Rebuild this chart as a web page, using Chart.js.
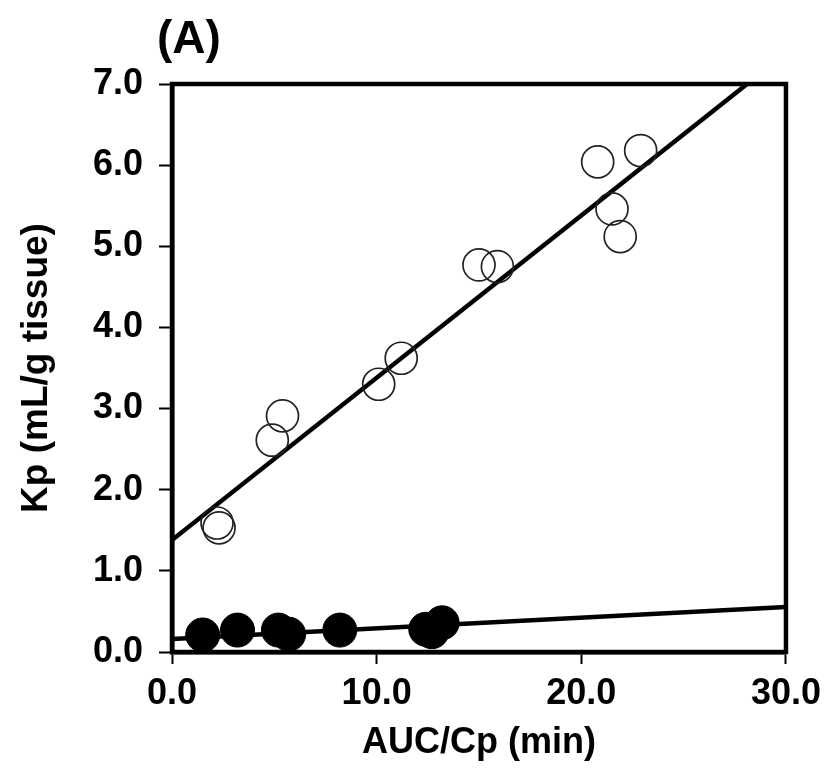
<!DOCTYPE html>
<html>
<head>
<meta charset="utf-8">
<script src="https://cdn.jsdelivr.net/npm/chart.js@4/dist/chart.umd.min.js"></script>
<style>
  html, body { margin: 0; padding: 0; background: #fff; }
  #wrap { width: 829px; height: 783px; position: relative; }
</style>
</head>
<body>
<div id="wrap"><canvas id="c" width="829" height="783"></canvas></div>
<script>
// ---- data ----
const panelLabel = "(A)";
const xTitle = "AUC/Cp (min)";
const yTitle = "Kp (mL/g tissue)";
const xTicks = [0, 10, 20, 30];
const yTicks = [0, 1, 2, 3, 4, 5, 6, 7];

// open circles
const openX = [2.2, 2.3, 4.9, 5.4, 10.1, 11.2, 15.0, 15.9, 20.8, 21.5, 21.9, 22.9];
const openY = [1.59, 1.53, 2.61, 2.91, 3.30, 3.62, 4.77, 4.75, 6.04, 5.46, 5.12, 6.18];
// filled circles
const closedX = [1.5, 3.2, 5.2, 5.7, 8.2, 12.4, 12.7, 13.2];
const closedY = [0.21, 0.27, 0.27, 0.22, 0.27, 0.28, 0.25, 0.36];
// regression lines (endpoints read at x = 0 and x = 30)
const fitX = [0, 30];
const openFitY = [1.38, 7.38];
const closedFitY = [0.16, 0.555];

const pts = (xs, ys) => xs.map((x, i) => ({ x: x, y: ys[i] }));

const frame = {
  id: 'frame',
  afterDatasetsDraw(chart) {
    const { ctx, chartArea: a } = chart;
    ctx.save();
    ctx.strokeStyle = '#000';
    ctx.lineWidth = 4.5;
    ctx.strokeRect(a.left, a.top, a.right - a.left, a.bottom - a.top);
    ctx.restore();
  },
  afterDraw(chart) {
    const { ctx, chartArea: a } = chart;
    ctx.save();
    ctx.fillStyle = '#000';
    ctx.font = 'bold 46px "Liberation Sans", Arial, sans-serif';
    ctx.textAlign = 'left';
    ctx.textBaseline = 'middle';
    ctx.fillText(panelLabel, a.left - 15, 40);
    ctx.restore();
  }
};

const tickFont = { family: '"Liberation Sans", Arial, sans-serif', weight: 'bold', size: 36 };

new Chart(document.getElementById('c'), {
  type: 'scatter',
  data: {
    datasets: [
      {
        type: 'line', data: pts(fitX, openFitY), borderColor: '#000', borderWidth: 4.5,
        pointRadius: 0, fill: false, tension: 0, order: 3
      },
      {
        type: 'line', data: pts(fitX, closedFitY), borderColor: '#000', borderWidth: 4.5,
        pointRadius: 0, fill: false, tension: 0, order: 3
      },
      {
        data: pts(openX, openY), pointStyle: 'circle', pointRadius: 16,
        backgroundColor: 'rgba(255,255,255,0)', borderColor: '#222', borderWidth: 1.7, order: 1
      },
      {
        data: pts(closedX, closedY), pointStyle: 'circle', pointRadius: 17,
        backgroundColor: '#000', borderColor: '#000', borderWidth: 1, order: 2
      }
    ]
  },
  options: {
    responsive: false,
    animation: false,
    events: [],
    layout: { padding: { top: 84, right: 42, left: 0, bottom: 0 } },
    plugins: { legend: { display: false }, tooltip: { enabled: false } },
    scales: {
      x: {
        type: 'linear', min: 0, max: 30,
        afterBuildTicks(s) { s.ticks = xTicks.map(v => ({ value: v })); },
        afterFit(s) { s.height = 131; },
        border: { display: true, color: '#000', width: 4.5 },
        grid: { drawOnChartArea: false, drawTicks: true, tickLength: 12, tickWidth: 2, tickColor: '#000' },
        ticks: { color: '#000', padding: 8, font: tickFont, callback: v => v.toFixed(1) },
        title: {
          display: true, text: xTitle, color: '#000',
          font: { family: '"Liberation Sans", Arial, sans-serif', weight: 'bold', size: 36 },
          padding: { top: 0, bottom: 18 }
        }
      },
      y: {
        type: 'linear', min: 0, max: 7,
        afterBuildTicks(s) { s.ticks = yTicks.map(v => ({ value: v })); },
        afterFit(s) { s.width = 172; },
        border: { display: true, color: '#000', width: 4.5 },
        grid: { drawOnChartArea: false, drawTicks: true, tickLength: 13, tickWidth: 2, tickColor: '#000' },
        ticks: { color: '#000', padding: 16, font: tickFont, callback: v => v.toFixed(1) },
        title: {
          display: true, text: yTitle, color: '#000',
          font: { family: '"Liberation Sans", Arial, sans-serif', weight: 'bold', size: 37 },
          padding: { top: 15, bottom: 0 }
        }
      }
    }
  },
  plugins: [frame]
});
</script>
</body>
</html>
